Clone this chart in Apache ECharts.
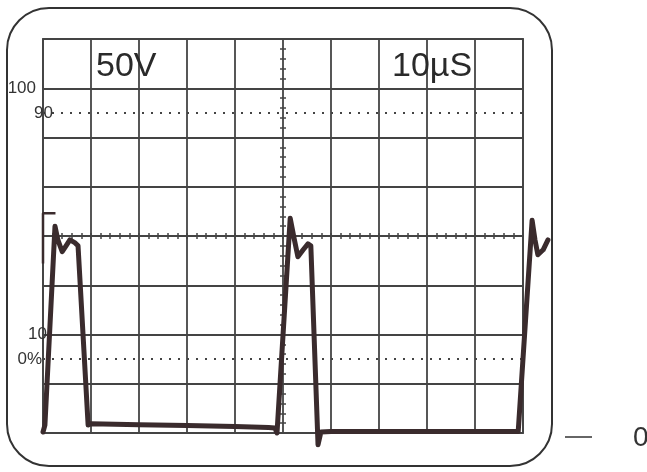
<!DOCTYPE html>
<html>
<head>
<meta charset="utf-8">
<script src="https://cdn.jsdelivr.net/npm/echarts@6/dist/echarts.min.js"></script>
<style>
html,body{margin:0;padding:0;background:#fff;}
#chart{width:647px;height:472px;}
</style>
</head>
<body>
<div id="chart"></div>
<script>
// Time (µs, 10 µs/div) and voltage (V, 50 V/div) of the scope trace
const traceTime  = [0, 0.4, 2.5, 3.1, 4.0, 4.8, 5.6, 6.7, 7.3, 9.4, 10, 20, 30, 40, 47, 48.3, 48.75, 51.5, 52.3, 53.1, 54.2, 55.2, 55.8, 57.3, 57.9, 60, 70, 80, 90, 99, 99.4, 101.9, 102.5, 103.1, 104.2, 105.2];
const traceVolts = [1, 8, 210, 196, 184, 190, 196, 193, 190, 8, 9.5, 8.5, 7.5, 6.5, 5.5, 5, 0, 218, 198, 179, 186, 192, 190, -12, 1, 1.5, 1.5, 1.5, 1.5, 1.5, 0, 216, 196, 181, 186, 196];
// residual trace segment at the left edge
const flagTime  = [0, 0, 2.6];
const flagVolts = [172, 223, 223];
// reference levels (percent labels) on the volts axis
const levelLabels = ['100', '90', '10', '0%'];
const levelVolts  = [350, 325, 100, 75];
const levelDotted = [false, true, false, true];
const voltsPerDiv = '50V';
const timePerDiv = '10µS';

const gridColor = '#444';
const traceColor = '#3a2b2d';
const fontFam = '"Liberation Sans", Arial, sans-serif';

const chart = echarts.init(document.getElementById('chart'));

const hiddenAxisBase = {
  type: 'value',
  axisLine: {show: false},
  axisTick: {show: false},
  axisLabel: {show: false},
  splitLine: {show: false}
};
function centreAxis(extra, inside) {
  return Object.assign({}, hiddenAxisBase, extra, {
    axisTick: {show: true, inside: inside, length: 3, lineStyle: {color: gridColor, width: 1.5}},
    minorTick: {show: true, splitNumber: 5, length: 3, lineStyle: {color: gridColor, width: 1.5}}
  });
}

const levelLabelDist = [7, -10, -4, 1];
const markData = levelVolts.map((v, i) => ({
  yAxis: v,
  lineStyle: {type: levelDotted[i] ? [2, 7] : 'solid', width: levelDotted[i] ? 2 : 1.8, color: gridColor},
  label: {
    show: true, position: 'start', distance: levelLabelDist[i],
    formatter: levelLabels[i], color: '#333', fontSize: 17, fontFamily: fontFam
  }
}));

chart.setOption({
  backgroundColor: '#fff',
  animation: false,
  grid: [
    // graticule: 10 x 8 divisions
    {left: 43, right: 124, top: 39, bottom: 39, show: true, borderColor: gridColor, borderWidth: 1.8},
    // trace area: same scale, allowed to run past the graticule
    {left: 43, right: 95.2, top: 39, bottom: 19.3, show: false}
  ],
  xAxis: [
    {type: 'value', gridIndex: 0, min: 0, max: 100, interval: 10,
     axisLine: {show: false}, axisTick: {show: false}, axisLabel: {show: false},
     splitLine: {show: true, lineStyle: {color: gridColor, width: 1.8}}},
    centreAxis({gridIndex: 0, min: 0, max: 100, interval: 10, position: 'bottom', offset: -197}, true),
    centreAxis({gridIndex: 0, min: 0, max: 100, interval: 10, position: 'bottom', offset: -197}, false),
    Object.assign({}, hiddenAxisBase, {gridIndex: 1, min: 0, max: 106})
  ],
  yAxis: [
    {type: 'value', gridIndex: 0, min: 0, max: 400, interval: 50,
     axisLine: {show: false}, axisTick: {show: false}, axisLabel: {show: false},
     splitLine: {show: true, lineStyle: {color: gridColor, width: 1.8}}},
    centreAxis({gridIndex: 0, min: 0, max: 400, interval: 50, position: 'left', offset: -240}, true),
    centreAxis({gridIndex: 0, min: 0, max: 400, interval: 50, position: 'left', offset: -240}, false),
    Object.assign({}, hiddenAxisBase, {gridIndex: 1, min: -20, max: 400})
  ],
  series: [
    {
      type: 'line', xAxisIndex: 0, yAxisIndex: 0,
      data: [],
      symbol: 'none',
      markLine: {
        silent: true, symbol: 'none', animation: false,
        data: markData
      }
    },
    {
      type: 'line', xAxisIndex: 3, yAxisIndex: 3,
      data: traceTime.map((t, i) => [t, traceVolts[i]]),
      symbol: 'none', clip: false, smooth: false,
      lineStyle: {color: traceColor, width: 5, join: 'round', cap: 'round'},
      z: 5
    },
    {
      type: 'line', xAxisIndex: 3, yAxisIndex: 3,
      data: flagTime.map((t, i) => [t, flagVolts[i]]),
      symbol: 'none', clip: false,
      lineStyle: {color: traceColor, width: 2.5},
      z: 5
    }
  ],
  graphic: [
    {type: 'rect', shape: {x: 7, y: 8, width: 545, height: 458, r: 42},
     style: {fill: 'none', stroke: '#333', lineWidth: 2}, z: 1},
    {type: 'text', left: 96, top: 50,
     style: {text: voltsPerDiv, font: '34px ' + fontFam, fill: '#2a2a2a'}, z: 10},
    {type: 'text', left: 392, top: 50,
     style: {text: timePerDiv, font: '34px ' + fontFam, fill: '#2a2a2a'}, z: 10},
    {type: 'line', shape: {x1: 565, y1: 437, x2: 592, y2: 437},
     style: {stroke: '#333', lineWidth: 1.5}},
    {type: 'text', left: 633, top: 424,
     style: {text: '0', font: '28px ' + fontFam, fill: '#333'}}
  ]
});
</script>
</body>
</html>
